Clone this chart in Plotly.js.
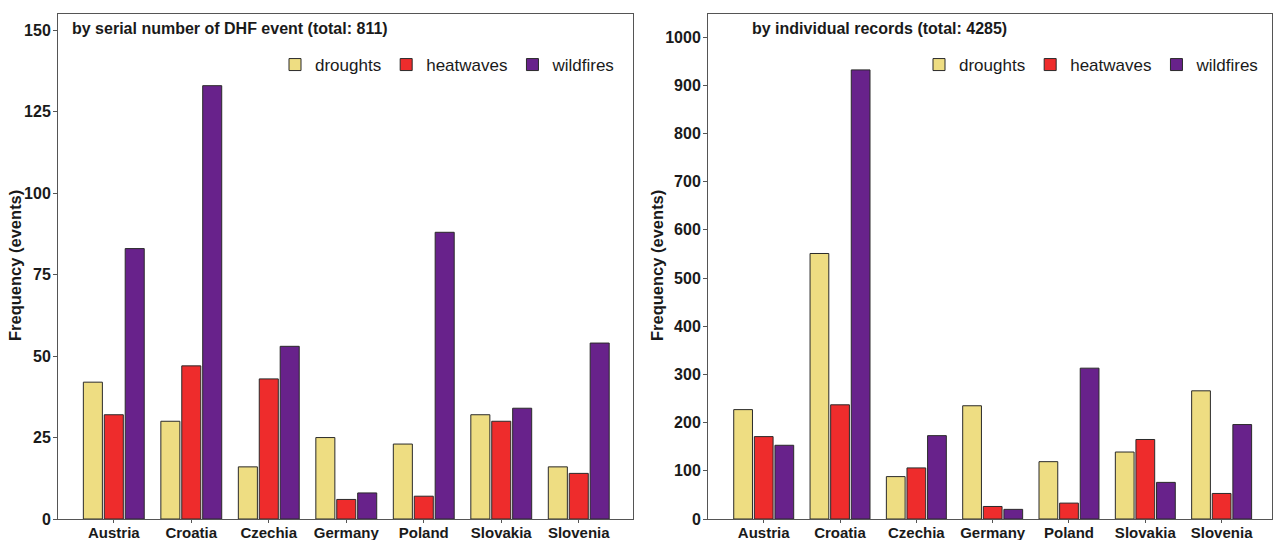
<!DOCTYPE html>
<html>
<head>
<meta charset="utf-8">
<script src="https://cdn.plot.ly/plotly-3.0.1.min.js"></script>
<style>html,body{margin:0;padding:0;background:#fff;}#chart{width:1275px;height:540px;}</style>
</head>
<body>
<div id="chart"></div>
<script>
const countries = ["Austria", "Croatia", "Czechia", "Germany", "Poland", "Slovakia", "Slovenia"];
const seriesNames = ["droughts", "heatwaves", "wildfires"];
const seriesColors = ["#EEDD82", "#EE2C2C", "#68228B"];

// Panel A: by serial number of DHF event
const eventsDroughts  = [42, 30, 16, 25, 23, 32, 16];
const eventsHeatwaves = [32, 47, 43, 6, 7, 30, 14];
const eventsWildfires = [83, 133, 53, 8, 88, 34, 54];

// Panel B: by individual records
const recordsDroughts  = [227, 551, 88, 235, 119, 139, 266];
const recordsHeatwaves = [171, 237, 106, 26, 33, 165, 53];
const recordsWildfires = [153, 932, 173, 20, 313, 76, 196];

const titleA = "by serial number of DHF event (total: 811)";
const titleB = "by individual records (total: 4285)";
const yTitle = "Frequency (events)";

const FONT = "Liberation Sans, Arial, sans-serif";
const eventsData = [eventsDroughts, eventsHeatwaves, eventsWildfires];
const recordsData = [recordsDroughts, recordsHeatwaves, recordsWildfires];

const traces = [];
eventsData.forEach((vals, i) => {
  traces.push({
    type: "bar", x: countries, y: vals, name: seriesNames[i],
    xaxis: "x", yaxis: "y", legend: "legend",
    marker: {color: seriesColors[i], line: {color: "#2a2a2a", width: 1}},
    hoverinfo: "x+y+name"
  });
});
recordsData.forEach((vals, i) => {
  traces.push({
    type: "bar", x: countries, y: vals, name: seriesNames[i],
    xaxis: "x2", yaxis: "y2", legend: "legend2",
    marker: {color: seriesColors[i], line: {color: "#2a2a2a", width: 1}},
    hoverinfo: "x+y+name"
  });
});

const W = 1275, H = 540;
const px = v => v / W;
const py = v => 1 - v / H;

const xCommon = {
  type: "category", showline: true, mirror: true, linecolor: "#555", linewidth: 1,
  ticks: "outside", ticklen: 3, tickcolor: "#555", showgrid: false, zeroline: false,
  ticklabelstandoff: -3,
  tickfont: {family: FONT, size: 15, color: "#1a1a1a", weight: "bold"}
};
const yCommon = {
  showline: true, mirror: true, linecolor: "#555", linewidth: 1,
  ticks: "outside", ticklen: 4, tickcolor: "#555", showgrid: false, zeroline: false,
  ticklabelstandoff: -1,
  tickfont: {family: FONT, size: 16, color: "#1a1a1a", weight: "bold"}
};
const titleFont = {family: FONT, size: 16, color: "#1a1a1a", weight: "bold"};
const axisTitleFont = {family: FONT, size: 16.5, color: "#1a1a1a", weight: "bold"};

const layout = {
  width: W, height: H,
  margin: {l: 0, r: 0, t: 0, b: 0},
  paper_bgcolor: "#fff", plot_bgcolor: "#fff",
  barmode: "group", bargap: 0.19, bargroupgap: 0.09,
  font: {family: FONT, color: "#1a1a1a"},
  xaxis: Object.assign({}, xCommon, {domain: [px(58), px(633)], range: [-0.72, 6.70], anchor: "y"}),
  yaxis: Object.assign({}, yCommon, {domain: [py(519), py(14)], range: [0, 155], tickvals: [0, 25, 50, 75, 100, 125, 150], anchor: "x"}),
  xaxis2: Object.assign({}, xCommon, {domain: [px(708), px(1272)], range: [-0.73, 6.66], anchor: "y2"}),
  yaxis2: Object.assign({}, yCommon, {domain: [py(519), py(14)], range: [0, 1048], tickvals: [0,100,200,300,400,500,600,700,800,900,1000], anchor: "x2"}),
  legend: {
    orientation: "h", x: px(620), xanchor: "right", y: py(65), yanchor: "middle",
    font: {family: FONT, size: 17, color: "#1a1a1a"}, bgcolor: "rgba(0,0,0,0)",
    itemwidth: 30, traceorder: "normal", itemclick: false
  },
  legend2: {
    orientation: "h", x: px(1264), xanchor: "right", y: py(65), yanchor: "middle",
    font: {family: FONT, size: 17, color: "#1a1a1a"}, bgcolor: "rgba(0,0,0,0)",
    itemwidth: 30, traceorder: "normal", itemclick: false
  },
  annotations: [
    {text: titleA, xref: "paper", yref: "paper", x: px(70), y: py(29), xanchor: "left", yanchor: "middle",
     showarrow: false, font: titleFont},
    {text: titleB, xref: "paper", yref: "paper", x: px(750), y: py(29), xanchor: "left", yanchor: "middle",
     showarrow: false, font: titleFont},
    {text: yTitle, xref: "paper", yref: "paper", x: px(15), y: py(266), xanchor: "center", yanchor: "middle",
     textangle: -90, showarrow: false, font: axisTitleFont},
    {text: yTitle, xref: "paper", yref: "paper", x: px(657), y: py(266), xanchor: "center", yanchor: "middle",
     textangle: -90, showarrow: false, font: axisTitleFont}
  ]
};

Plotly.newPlot("chart", traces, layout, {displayModeBar: false});
</script>
</body>
</html>
